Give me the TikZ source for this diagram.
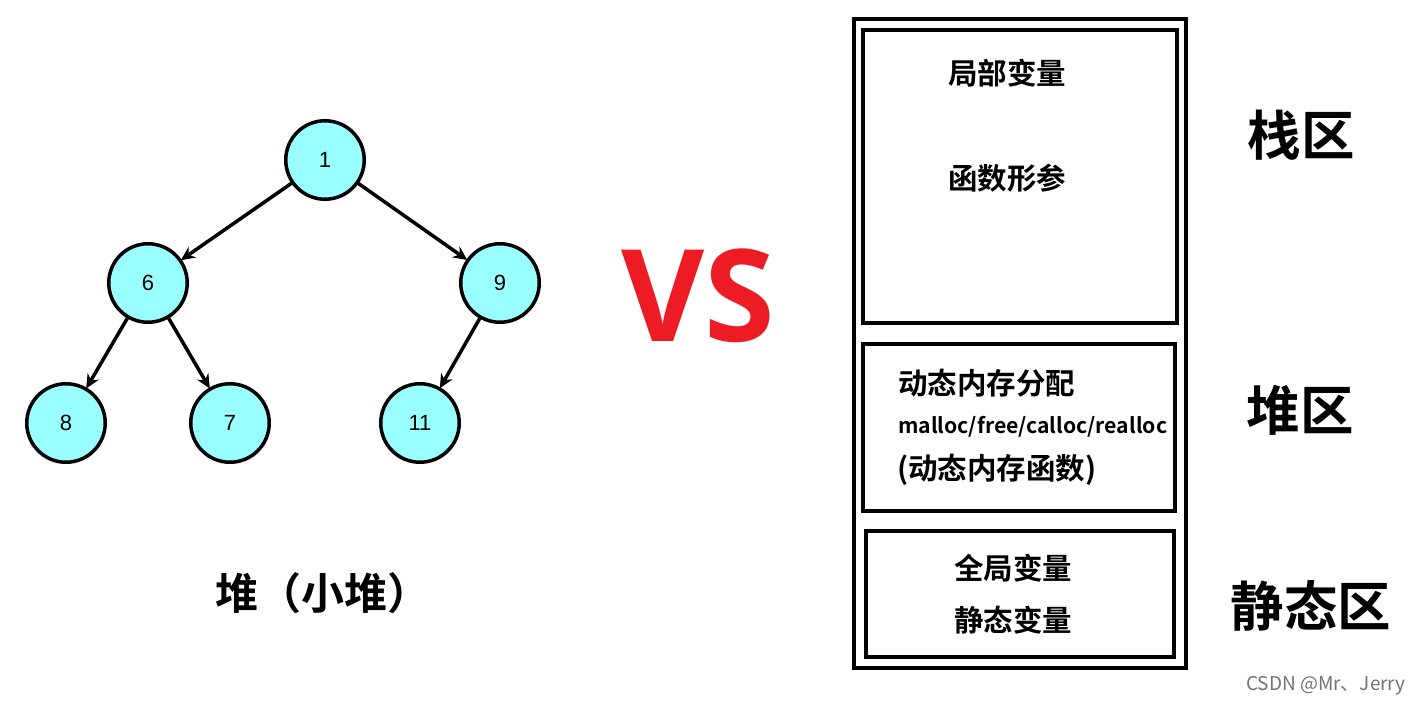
\documentclass[tikz,border=0pt]{standalone}
\usepackage{fontspec}
\setmainfont{Liberation Sans}
\newfontfamily\cjk{Noto Sans CJK SC}[BoldFont={* Bold}]
\newfontfamily\vsfont{Open Sans}[BoldFont={* Bold}]
\usetikzlibrary{arrows.meta}
\definecolor{nodecyan}{HTML}{99FFFF}
\definecolor{vsred}{HTML}{ED1C24}
\tikzset{
  heapnode/.style={circle,draw=black,line width=3.5pt,fill=nodecyan,minimum size=78.5pt,inner sep=0pt,font=\fontsize{22}{26}\selectfont},
  edge/.style={line width=3.5pt,-{Stealth[length=14pt,width=13pt]},shorten >=-1pt},
  membox/.style={draw=black,line width=4pt},
  boxtext/.style={font=\cjk\bfseries\fontsize{29.5}{34}\selectfont,inner sep=0pt},
  regiontext/.style={font=\cjk\bfseries\fontsize{53.5}{62}\selectfont,inner sep=0pt},
}
\begin{document}
\begin{tikzpicture}[x=1pt,y=-1pt]
\useasboundingbox (0,0) rectangle (1421,706);
\fill[white] (0,0) rectangle (1421,706);
% heap tree
\node[heapnode] (n1) at (325,160) {1};
\node[heapnode] (n6) at (148,283) {6};
\node[heapnode] (n9) at (500,283) {9};
\node[heapnode] (n8) at (66,423) {8};
\node[heapnode] (n7) at (230,423) {7};
\node[heapnode] (n11) at (420,423) {11};
\draw[edge] (n1) -- (n6);
\draw[edge] (n1) -- (n9);
\draw[edge] (n6) -- (n8);
\draw[edge] (n6) -- (n7);
\draw[edge] (n9) -- (n11);
\node[font=\cjk\bfseries\fontsize{43}{48}\selectfont,inner sep=0pt] (heaplabel) at (323,593) {堆（小堆）};
% VS
\node[font=\vsfont\bfseries\fontsize{128}{140}\selectfont,text=vsred,inner sep=0pt] (vs) at (698,296) {VS};
% memory boxes
\node[membox,minimum width=332pt,minimum height=649pt,inner sep=0pt] (outer) at (1020,343.5) {};
\node[membox,minimum width=314pt,minimum height=293pt,inner sep=0pt] (stack) at (1020,176.5) {};
\node[membox,minimum width=312pt,minimum height=167pt,inner sep=0pt] (heap) at (1019,427.5) {};
\node[membox,minimum width=308pt,minimum height=126pt,inner sep=0pt] (static) at (1020,594) {};
\node[boxtext] (t1) at (1007,73) {局部变量};
\node[boxtext] (t2) at (1007,178) {函数形参};
\node[boxtext,anchor=west] (t3) at (898,383) {动态内存分配};
\node[font=\cjk\bfseries\fontsize{21.2}{25}\selectfont,inner sep=0pt,anchor=west] (t4) at (898,427) {malloc/free/calloc/realloc};
\node[boxtext,anchor=west] (t5) at (897,470) {(动态内存函数)};
\node[boxtext] (t6) at (1013,568) {全局变量};
\node[boxtext] (t7) at (1013,620) {静态变量};
\node[regiontext] (r1) at (1301,135) {栈区};
\node[regiontext] (r2) at (1300,410) {堆区};
\node[regiontext] (r3) at (1311,606) {静态区};
\node[font=\cjk\fontsize{19}{23}\selectfont,text=black!55,inner sep=0pt,anchor=east] (wm) at (1406,686) {CSDN @Mr、Jerry};
\end{tikzpicture}
\end{document}
